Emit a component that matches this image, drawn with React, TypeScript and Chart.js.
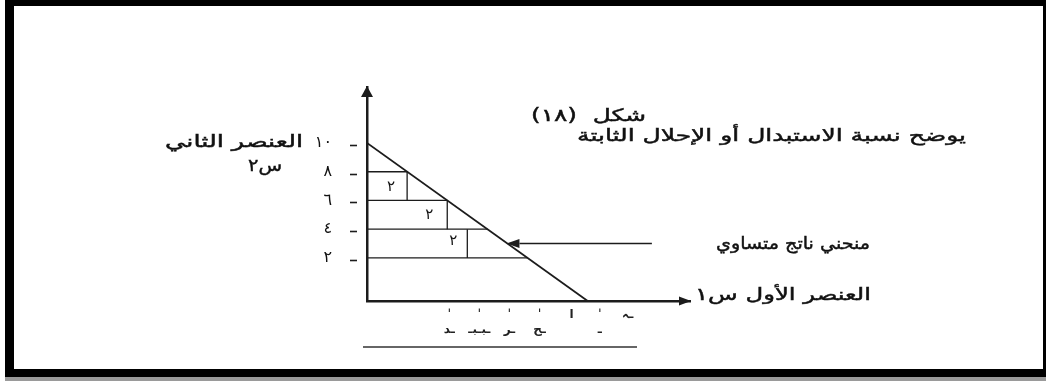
import React, { useEffect, useRef } from "react";
import { Chart, registerables } from "chart.js";

Chart.register(...registerables);

// ---- data ----
const yTickValues = [2, 4, 6, 8, 10];
const yTickLabels = ["٢", "٤", "٦", "٨", "١٠"];

const xTickValues = [2.05, 2.8, 3.55, 4.3, 5.1, 5.8, 6.5];
const xTickLabels: string[][] = [
  ["ˈ", "ـد"],
  ["ˈ", "ـبـبـ"],
  ["ˈ", "ـر"],
  ["ˈ", "ـح"],
  ["ا", ""],
  ["ˈ", "ـ"],
  ["ـہ", ""],
];

// isoquant (equal product curve)
const isoquantX = [0, 5.5];
const isoquantY = [10, -1];

// staircase: horizontal levels ending on the curve
const stepLevels = [8, 6, 4, 2];
const stepEndX = [1, 2, 3, 4];
// vertical drops
const dropX = [1, 2, 2.5];
const dropTop = [8, 6, 4];
const dropBottom = [6, 4, 2];
// labels inside the rectangles
const stepLabels = ["٢", "٢", "٢"];
const stepLabelX = [0.6, 1.55, 2.15];
const stepLabelY = [6.9, 5.0, 3.2];

// pointer arrow to the curve
const arrowX = [7.1, 3.55];
const arrowY = [3, 3];

const X_MIN = 0;
const X_MAX = 8.05;
const Y_MIN = -1;
const Y_MAX = 13.9;

const INK = "#1c1c1c";
const FONT = '"DejaVu Sans"';

function fitText(ctx: CanvasRenderingContext2D, text: string, left: number, right: number, cy: number, size: number) {
  ctx.save();
  ctx.font = `${size}px ${FONT}`;
  ctx.direction = "rtl";
  ctx.textAlign = "left";
  ctx.textBaseline = "middle";
  ctx.fillStyle = "#111";
  ctx.strokeStyle = "#111";
  ctx.lineWidth = 0.45;
  const w = ctx.measureText(text).width;
  const sx = w > 0 ? (right - left) / w : 1;
  ctx.translate(left, cy);
  ctx.scale(sx, 1);
  ctx.fillText(text, 0, 0);
  ctx.strokeText(text, 0, 0);
  ctx.restore();
}

const decorPlugin = {
  id: "decor",
  afterDraw(chart: any) {
    const ctx: CanvasRenderingContext2D = chart.ctx;
    const xs = chart.scales.x;
    const ys = chart.scales.y;
    const area = chart.chartArea;

    ctx.save();
    ctx.fillStyle = INK;
    // y-axis arrowhead
    ctx.beginPath();
    ctx.moveTo(area.left, area.top - 1);
    ctx.lineTo(area.left - 6, area.top + 10);
    ctx.lineTo(area.left + 6, area.top + 10);
    ctx.closePath();
    ctx.fill();
    // x-axis arrowhead
    ctx.beginPath();
    ctx.moveTo(area.right + 1, area.bottom);
    ctx.lineTo(area.right - 11, area.bottom - 4.5);
    ctx.lineTo(area.right - 11, area.bottom + 4.5);
    ctx.closePath();
    ctx.fill();
    // pointer arrowhead
    const tx = xs.getPixelForValue(arrowX[1]);
    const ty = ys.getPixelForValue(arrowY[1]);
    ctx.beginPath();
    ctx.moveTo(tx - 3, ty);
    ctx.lineTo(tx + 10, ty - 4.5);
    ctx.lineTo(tx + 10, ty + 4.5);
    ctx.closePath();
    ctx.fill();

    // small dashes beside the y tick labels
    ctx.strokeStyle = INK;
    ctx.lineWidth = 1.6;
    yTickValues.forEach((v) => {
      const y = Math.round(ys.getPixelForValue(v)) + 2.5;
      ctx.beginPath();
      ctx.moveTo(area.left - 17, y);
      ctx.lineTo(area.left - 10, y);
      ctx.stroke();
    });

    // step labels
    ctx.font = `15px ${FONT}`;
    ctx.textAlign = "center";
    ctx.textBaseline = "middle";
    ctx.fillStyle = "#111";
    stepLabels.forEach((t, i) => {
      ctx.fillText(t, xs.getPixelForValue(stepLabelX[i]), ys.getPixelForValue(stepLabelY[i]));
    });

    // rule under the x labels
    ctx.strokeStyle = "#333";
    ctx.lineWidth = 1.5;
    ctx.beginPath();
    ctx.moveTo(363, 347);
    ctx.lineTo(637, 347);
    ctx.stroke();
    ctx.restore();

    // texts
    fitText(ctx, "شكل  (١٨)", 531, 646, 117, 17);
    fitText(ctx, "يوضح نسبة الاستبدال أو الإحلال الثابتة", 577, 966, 137, 17);
    fitText(ctx, "العنصر الثاني", 165, 303, 143, 17);
    fitText(ctx, "س٢", 248, 282, 167, 17);
    fitText(ctx, "منحني ناتج متساوي", 716, 870, 245, 17);
    fitText(ctx, "العنصر الأول س١", 695, 871, 296, 17);

    // frame
    ctx.save();
    ctx.fillStyle = "#000";
    ctx.fillRect(5, 0, 1041, 6);
    ctx.fillRect(5, 0, 9, 377);
    ctx.fillRect(1043, 0, 3, 377);
    ctx.fillRect(5, 369, 1041, 8);
    ctx.fillStyle = "#9a9a9a";
    ctx.fillRect(5, 377, 1041, 4);
    ctx.restore();
  },
};

export default function App() {
  const ref = useRef<HTMLCanvasElement | null>(null);

  useEffect(() => {
    const canvas = ref.current;
    if (!canvas) return;

    const seg = (a: { x: number; y: number }, b: { x: number; y: number }, w: number) => ({
      data: [a, b],
      showLine: true,
      borderColor: INK,
      borderWidth: w,
      pointRadius: 0,
      fill: false,
    });

    const datasets: any[] = [
      {
        label: "isoquant",
        data: isoquantX.map((x, i) => ({ x, y: isoquantY[i] })),
        showLine: true,
        borderColor: INK,
        borderWidth: 1.8,
        pointRadius: 0,
      },
      ...stepLevels.map((lv, i) => seg({ x: 0, y: lv }, { x: stepEndX[i], y: lv }, 1.3)),
      ...dropX.map((x, i) => seg({ x, y: dropTop[i] }, { x, y: dropBottom[i] }, 1.3)),
      seg({ x: arrowX[0], y: arrowY[0] }, { x: arrowX[1] + 0.25, y: arrowY[1] }, 1.5),
    ];

    const chart = new Chart(canvas, {
      type: "scatter",
      data: { datasets },
      options: {
        animation: false,
        responsive: false,
        events: [],
        layout: { padding: { left: 367 - 80, right: 1046 - 690, top: 87, bottom: 381 - 301 - 40 } },
        plugins: { legend: { display: false }, tooltip: { enabled: false }, title: { display: false } },
        scales: {
          x: {
            type: "linear",
            min: X_MIN,
            max: X_MAX,
            afterFit: (s: any) => { s.height = 40; },
            afterBuildTicks: (s: any) => { s.ticks = xTickValues.map((v) => ({ value: v })); },
            border: { display: true, color: INK, width: 2.5 },
            grid: { display: false, drawOnChartArea: false, drawTicks: false },
            ticks: {
              padding: 7,
              autoSkip: false,
              maxRotation: 0,
              color: "#222",
              font: { family: "DejaVu Sans", size: 12, weight: "bold" },
              callback: (v: any) => {
                const i = xTickValues.indexOf(Number(v));
                return i >= 0 ? xTickLabels[i] : "";
              },
            },
          },
          y: {
            type: "linear",
            min: Y_MIN,
            max: Y_MAX,
            afterFit: (s: any) => { s.width = 80; },
            afterBuildTicks: (s: any) => { s.ticks = yTickValues.map((v) => ({ value: v })); },
            border: { display: true, color: INK, width: 2.5 },
            grid: { display: false, drawOnChartArea: false, drawTicks: false },
            ticks: {
              padding: 35,
              autoSkip: false,
              color: "#111",
              font: { family: "DejaVu Sans", size: 16 },
              callback: (v: any) => {
                const i = yTickValues.indexOf(Number(v));
                return i >= 0 ? yTickLabels[i] : "";
              },
            },
          },
        },
      },
      plugins: [decorPlugin],
    } as any);

    return () => chart.destroy();
  }, []);

  return (
    <div style={{ position: "fixed", left: 0, top: 0, width: 1046, height: 381, background: "#fff" }}>
      <canvas ref={ref} width={1046} height={381} style={{ display: "block", width: 1046, height: 381 }} />
    </div>
  );
}
